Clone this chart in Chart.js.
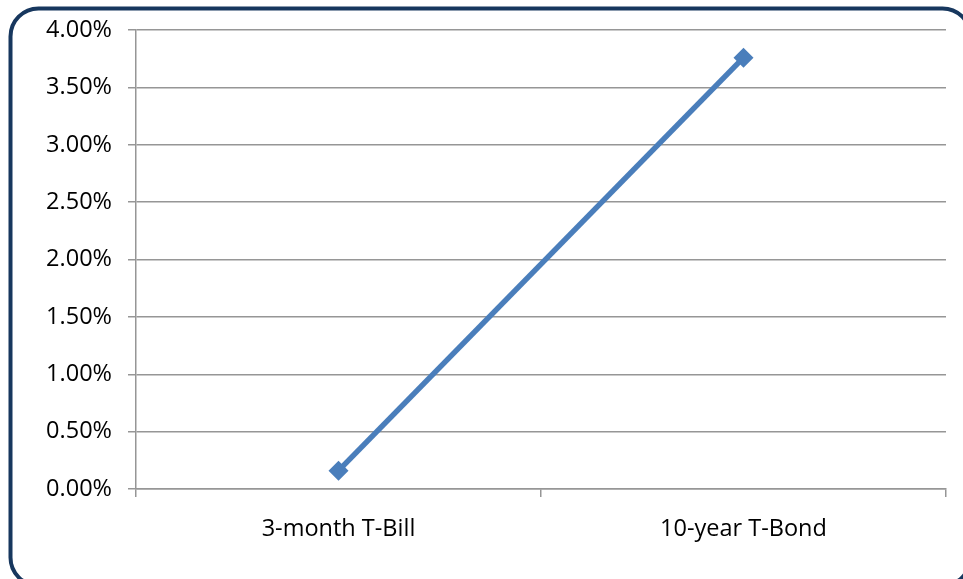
<!DOCTYPE html>
<html>
<head>
<meta charset="utf-8">
<script src="https://cdn.jsdelivr.net/npm/chart.js@4/dist/chart.umd.min.js"></script>
<style>
  html, body { margin: 0; padding: 0; background: #fff; }
  #wrap { width: 963px; height: 579px; position: relative; }
</style>
</head>
<body>
<div id="wrap"><canvas id="yield_curve"></canvas></div>
<script>
// ── Data ─────────────────────────────────────────────────────
const maturities = ["3-month T-Bill", "10-year T-Bond"];
const yieldPct = [0.16, 3.76];
const yMin = 0, yMax = 4, yStep = 0.5;

// ── Frame plugin (rounded navy border) ───────────────────────
const framePlugin = {
    id: "frame",
    beforeDraw(chart) {
        const c = chart.ctx;
        c.save();
        c.fillStyle = "#fff";
        c.fillRect(0, 0, chart.width, chart.height);
        c.beginPath();
        c.roundRect(10.5, 8.5, 960, 577, 28);
        c.lineWidth = 4;
        c.strokeStyle = "#17375e";
        c.stroke();
        c.restore();
    }
};

const lineBlue = "#4a7ebb";
const gridGray = "#969696";
const font = { family: "'Open Sans', Lato, sans-serif", size: 23.5 };

new Chart(document.getElementById("yield_curve"), {
    type: "line",
    data: {
        labels: maturities,
        datasets: [{
            label: "Yield",
            data: yieldPct,
            borderColor: lineBlue,
            backgroundColor: lineBlue,
            borderWidth: 5.5,
            tension: 0,
            pointStyle: "rectRot",
            pointRadius: 10,
            pointBorderWidth: 0,
            pointBackgroundColor: lineBlue
        }]
    },
    options: {
        responsive: true,
        maintainAspectRatio: false,
        animation: false,
        devicePixelRatio: 1,
        layout: { padding: { left: 12, top: 30, right: 17, bottom: 0 } },
        plugins: {
            legend: { display: false },
            tooltip: { enabled: false }
        },
        scales: {
            x: {
                offset: true,
                grid: {
                    offset: true,
                    drawOnChartArea: false,
                    drawTicks: true,
                    tickLength: 8,
                    color: gridGray,
                    lineWidth: 1.5
                },
                border: { color: gridGray, width: 1.5 },
                ticks: { color: "#000", font, padding: 18, maxRotation: 0 },
                afterFit(scale) { scale.height = 579 - 489; }
            },
            y: {
                min: yMin,
                max: yMax,
                grid: { color: gridGray, lineWidth: 1.5, tickLength: 8 },
                border: { color: gridGray, width: 1.5 },
                ticks: {
                    stepSize: yStep,
                    color: "#000",
                    font,
                    padding: 16,
                    callback: v => v.toFixed(2) + "%"
                },
                afterFit(scale) { scale.width = 136 - 12; }
            }
        }
    },
    plugins: [framePlugin]
});
</script>
</body>
</html>
